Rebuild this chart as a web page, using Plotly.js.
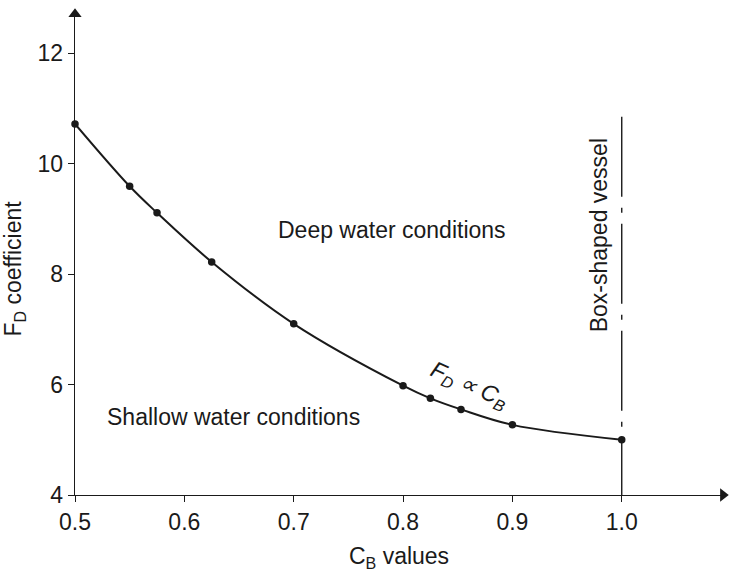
<!DOCTYPE html>
<html>
<head>
<meta charset="utf-8">
<script src="https://cdn.plot.ly/plotly-3.0.1.min.js"></script>
<style>
  html, body { margin: 0; padding: 0; background: #ffffff; }
  #chart { width: 730px; height: 573px; }
</style>
</head>
<body>
<div id="chart"></div>
<script>
// Data
const cbValues = [0.5, 0.55, 0.575, 0.625, 0.7, 0.8, 0.825, 0.853, 0.9, 1.0];
const fdValues = [10.72, 9.59, 9.11, 8.22, 7.1, 5.98, 5.75, 5.55, 5.27, 5.0];

const boxVesselX = [1.0, 1.0];
const boxVesselY = [10.85, 4];

const xTickVals = [0.5, 0.6, 0.7, 0.8, 0.9, 1.0];
const xTickText = ['0.5', '0.6', '0.7', '0.8', '0.9', '1.0'];
const yTickVals = [4, 6, 8, 10, 12];
const yTickText = ['4', '6', '8', '10', '12'];

const xRange = [0.5, 1.0926];
const yRange = [4, 12.71];

const FONT = 'Liberation Sans, Arial, sans-serif';
const INK = '#1a1a1a';
const FS = 23;

const traces = [
  {
    x: boxVesselX,
    y: boxVesselY,
    mode: 'lines',
    line: { color: INK, width: 1.4, dash: '80px,11px,5px,11px' },
    hoverinfo: 'skip',
    showlegend: false
  },
  {
    x: cbValues,
    y: fdValues,
    mode: 'lines+markers',
    line: { color: INK, width: 2, shape: 'spline', smoothing: 1 },
    marker: { color: INK, size: 7.5 },
    cliponaxis: false,
    showlegend: false
  },
  // axis arrowheads at the ends of the axes
  {
    x: [xRange[0]],
    y: [yRange[1]],
    mode: 'markers',
    marker: { symbol: 'triangle-up', size: 11.5, color: INK, line: { width: 0 } },
    cliponaxis: false,
    hoverinfo: 'skip',
    showlegend: false
  },
  {
    x: [xRange[1]],
    y: [yRange[0]],
    mode: 'markers',
    marker: { symbol: 'triangle-right', size: 11.5, color: INK, line: { width: 0 } },
    cliponaxis: false,
    hoverinfo: 'skip',
    showlegend: false
  }
];

const layout = {
  width: 730,
  height: 573,
  margin: { l: 75, r: 7, t: 14, b: 78 },
  paper_bgcolor: '#ffffff',
  plot_bgcolor: '#ffffff',
  font: { family: FONT, size: FS, color: INK },
  showlegend: false,
  xaxis: {
    range: xRange,
    tickvals: xTickVals,
    ticktext: xTickText,
    ticks: 'outside',
    ticklen: 6,
    tickwidth: 1,
    tickcolor: INK,
    showline: true,
    linecolor: INK,
    linewidth: 1.4,
    showgrid: false,
    zeroline: false,
    tickfont: { family: FONT, size: FS, color: INK },
    title: { text: 'C<sub>B</sub> values', font: { family: FONT, size: FS, color: INK }, standoff: 14 }
  },
  yaxis: {
    range: yRange,
    tickvals: yTickVals,
    ticktext: yTickText,
    ticks: 'outside',
    ticklen: 6,
    tickwidth: 1,
    tickcolor: INK,
    showline: true,
    linecolor: INK,
    linewidth: 1.4,
    showgrid: false,
    zeroline: false,
    tickfont: { family: FONT, size: FS, color: INK }
  },
  annotations: [
    { x: 0, xref: 'paper', xanchor: 'center', xshift: -60, y: 8.1, yref: 'y', yanchor: 'middle',
      text: 'F<sub>D</sub> coefficient', textangle: -90, showarrow: false,
      font: { family: FONT, size: FS, color: INK } },
    { x: 0.79, y: 8.8, xref: 'x', yref: 'y', text: 'Deep water conditions', showarrow: false,
      font: { family: FONT, size: FS, color: INK } },
    { x: 0.645, y: 5.41, xref: 'x', yref: 'y', text: 'Shallow water conditions', showarrow: false,
      font: { family: FONT, size: FS, color: INK } },
    { x: 0.86, y: 5.98, xref: 'x', yref: 'y', text: '<i>F<sub>D</sub> ∝ C<sub>B</sub></i>', showarrow: false,
      textangle: 24, font: { family: FONT, size: FS, color: INK } },
    { x: 0.98, y: 8.7, xref: 'x', yref: 'y', text: 'Box-shaped vessel', showarrow: false,
      textangle: -90, font: { family: FONT, size: FS, color: INK } }
  ]
};

Plotly.newPlot('chart', traces, layout, { displayModeBar: false, staticPlot: true });
</script>
</body>
</html>
